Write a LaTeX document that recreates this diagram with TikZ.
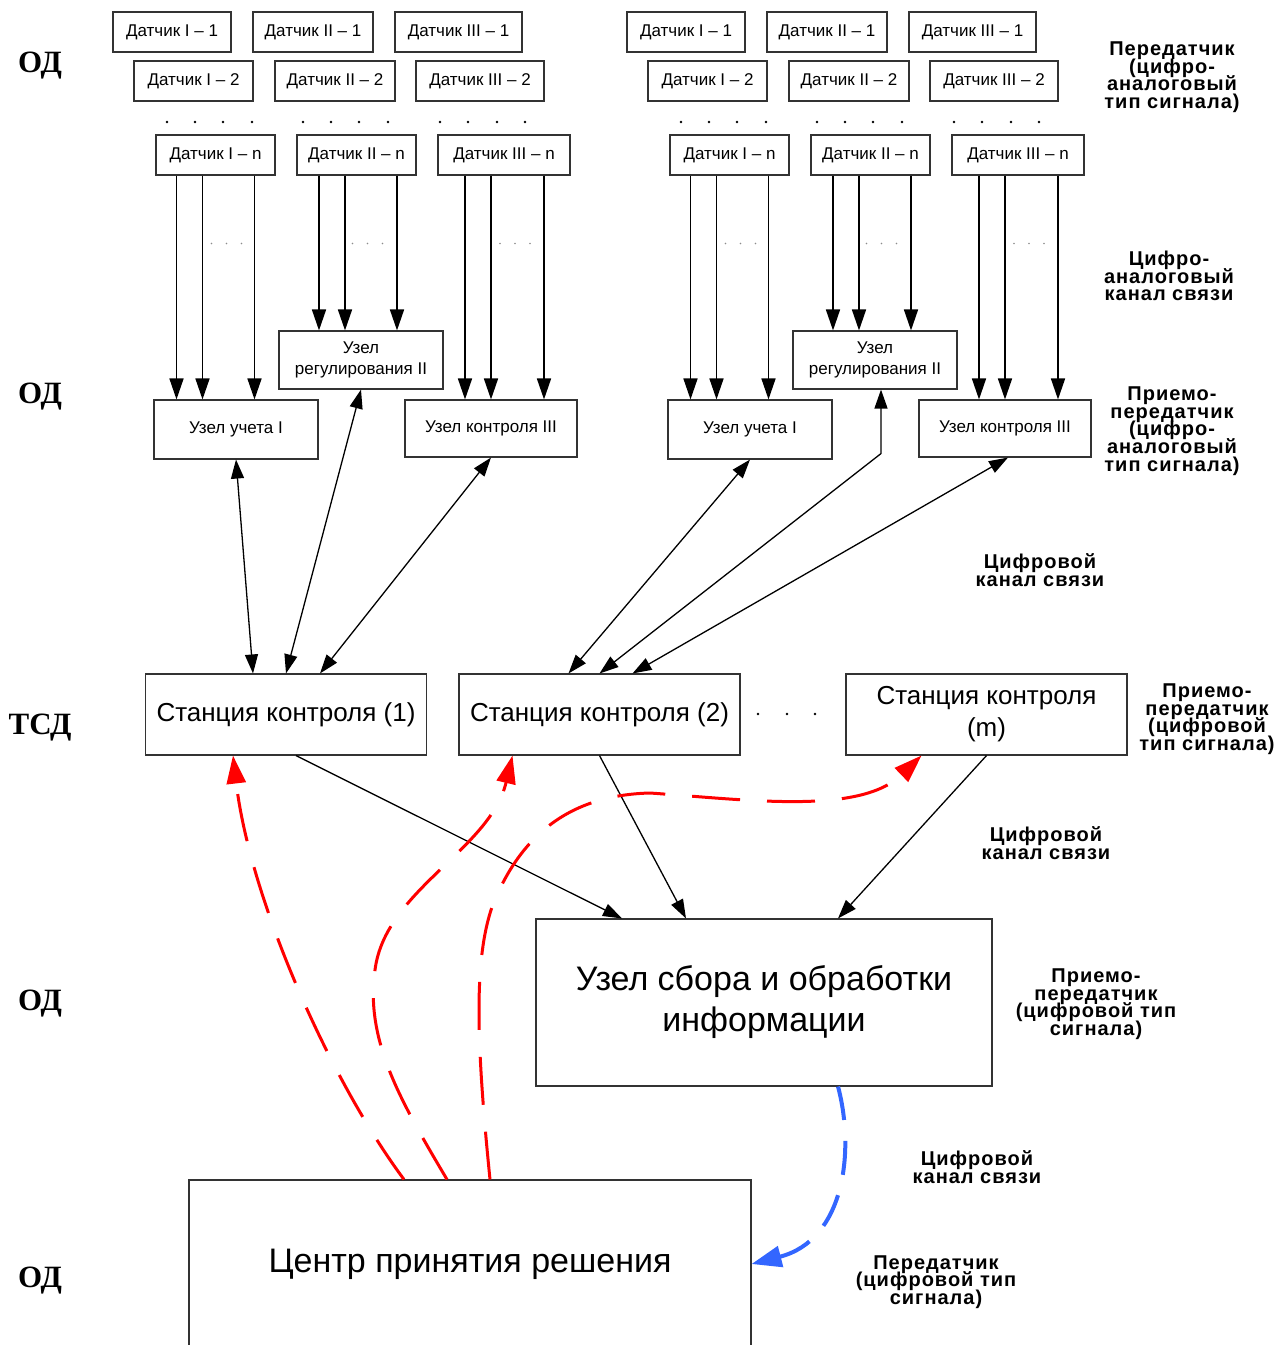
\documentclass[tikz,border=0pt]{standalone}
\usepackage{fontspec}
\setmainfont{Liberation Sans}
\newfontfamily\lblfont[LetterSpace=5]{Liberation Sans}
\newfontfamily\lvlfont{Liberation Serif}
\usetikzlibrary{arrows.meta}
\usetikzlibrary{calc}
\definecolor{linkblue}{RGB}{51,102,255}
\newcommand\lblsetup{\lblfont\bfseries\fontsize{20}{17.6}\selectfont\lineskiplimit=-20pt\relax}

\begin{document}
\begin{tikzpicture}[x=1pt,y=-1pt,
  box/.style={draw=black!80,line width=1.1pt,inner sep=0pt,align=center},
  sens/.style={box,minimum height=40,font=\fontsize{17}{21}\selectfont},
  unitbox/.style={box,font=\fontsize{17}{21}\selectfont},
  station/.style={box,minimum width=281,minimum height=81,font=\fontsize{26}{32}\selectfont},
  bigbox/.style={box,font=\fontsize{34}{41}\selectfont},
  lbl/.style={align=center,font=\lblsetup},
  lvl/.style={font=\lvlfont\bfseries\fontsize{31}{31}\selectfont},
  arr/.style={line width=1.6pt,-{Triangle[length=21pt,width=14pt]}},
  arrtwo/.style={line width=1.3pt,{Triangle[length=19pt,width=13pt]}-{Triangle[length=19pt,width=13pt]}},
  arrone/.style={line width=1.3pt,-{Triangle[length=19pt,width=13pt]}},
  rdash/.style={red,line width=3pt,dash pattern=on 48pt off 27pt,-{Triangle[length=28pt,width=19pt]}},
  bdash/.style={linkblue,line width=4pt,dash pattern=on 34pt off 21pt,-{Triangle[length=30pt,width=21pt]}}]
\useasboundingbox (0,0) rectangle (1278,1345);

% level names
\node[lvl] (od1) at (40,66) {ОД};
\node[lvl] (od2) at (40,397) {ОД};
\node[lvl] (tsd) at (40,728) {ТСД};
\node[lvl] (od3) at (40,1004) {ОД};
\node[lvl] (od4) at (40,1281) {ОД};

% two groups of sensors
\foreach \g/\dx in {a/0,b/514}{
  \node[sens,minimum width=118] (sI1\g) at (172+\dx,32) {Датчик I – 1};
  \node[sens,minimum width=120] (sII1\g) at (313+\dx,32) {Датчик II – 1};
  \node[sens,minimum width=127] (sIII1\g) at (458.5+\dx,32) {Датчик III – 1};
  \node[sens,minimum width=119] (sI2\g) at (193.5+\dx,81) {Датчик I – 2};
  \node[sens,minimum width=120] (sII2\g) at (335+\dx,81) {Датчик II – 2};
  \node[sens,minimum width=128] (sIII2\g) at (480+\dx,81) {Датчик III – 2};
  \node[sens,minimum width=119] (sIn\g) at (215.5+\dx,155) {Датчик I – n};
  \node[sens,minimum width=119] (sIIn\g) at (356.5+\dx,155) {Датчик II – n};
  \node[sens,minimum width=132] (sIIIn\g) at (504+\dx,155) {Датчик III – n};
  \foreach \x in {167,195,223,252,303,331,359,388,440,468,497,525}
    \fill (\x+\dx,122) circle (1.3);

  \node[unitbox,minimum width=164,minimum height=59] (uch\g) at (236+\dx,429.5) {Узел учета I};
  \node[unitbox,minimum width=164,minimum height=58] (reg\g) at (361+\dx,360) {Узел\\регулирования II};
  \node[unitbox,minimum width=172,minimum height=57] (kon\g) at (491+\dx,428.5) {Узел контроля III};

  \foreach \o in {-39,-13,39}
    \draw[arr] ([xshift=\o pt]sIn\g.south) -- ([xshift=\o pt]sIn\g.south |- uch\g.north);
  \foreach \o in {-37.5,-11.5,40.5}
    \draw[arr] ([xshift=\o pt]sIIn\g.south) -- ([xshift=\o pt]sIIn\g.south |- reg\g.north);
  \foreach \o in {-39,-13,40}
    \draw[arr] ([xshift=\o pt]sIIIn\g.south) -- ([xshift=\o pt]sIIIn\g.south |- kon\g.north);
  \foreach \n in {sIn\g,sIIn\g,sIIIn\g}
    \foreach \o in {-4,11,26}
      \fill[black!45] ($(\n.south)+(\o,68)$) circle (0.9);
}

% stations
\node[station] (st1) at (286,714.5) {Станция контроля (1)};
\node[station] (st2) at (599.5,714.5) {Станция контроля (2)};
\node[station] (stm) at (986.5,714.5) {Станция контроля\\(m)};
\foreach \x in {758,787,815}
  \fill (\x,714) circle (1.3);

\node[bigbox,minimum width=456,minimum height=167] (sbor) at (764,1002.5) {Узел сбора и обработки\\информации};
\node[bigbox,minimum width=562,minimum height=168] (centr) at (470,1264) {Центр принятия решения};

% links to stations
\draw[arrtwo] (ucha.south) -- ([xshift=-33pt]st1.north);
\draw[arrtwo] (rega.south) -- (st1.north);
\draw[arrtwo] (kona.south) -- ([xshift=34pt]st1.north);
\draw[arrtwo] (uchb.south) -- ([xshift=-31pt]st2.north);
\draw[arrtwo] ([xshift=6pt]regb.south) -- ++(0,64) -- (st2.north);
\draw[arrtwo] ([xshift=3pt]konb.south) -- ([xshift=33pt]st2.north);

\draw[arrone] ([xshift=10pt]st1.south) -- ([xshift=-142pt]sbor.north);
\draw[arrone] (st2.south) -- ([xshift=-78pt]sbor.north);
\draw[arrone] (stm.south) -- ([xshift=74pt]sbor.north);

% control links from the centre
\draw[rdash] ([xshift=-66pt]centr.north) .. controls (330,1080) and (250,900) .. ([xshift=-53pt]st1.south);
\draw[rdash] ([xshift=-23pt]centr.north) .. controls (400,1100) and (365,1040) .. (375,970)
  .. controls (385,890) and (490,850) .. ([xshift=-87pt]st2.south);
\draw[rdash] ([xshift=20pt]centr.north) .. controls (476,1040) and (474,960) .. (492,907)
  .. controls (520,835) and (570,795) .. (650,793)
  .. controls (750,800) and (860,815) .. ([xshift=-65pt]stm.south);
\draw[bdash] ([xshift=74pt]sbor.south) .. controls (855,1150) and (845,1240) .. (centr.east);

% right side labels
\node[lbl] (l1) at (1172,77) {Передатчик\\(цифро-\\аналоговый\\тип сигнала)};
\node[lbl] (l2) at (1169,276) {Цифро-\\аналоговый\\канал связи};
\node[lbl] (l3) at (1172,431) {Приемо-\\передатчик\\(цифро-\\аналоговый\\тип сигнала)};
\node[lbl] (l4) at (1040,570) {Цифровой\\канал связи};
\node[lbl] (l5) at (1207,719) {Приемо-\\передатчик\\(цифровой\\тип сигнала)};
\node[lbl] (l6) at (1046,843) {Цифровой\\канал связи};
\node[lbl] (l7) at (1096,1004) {Приемо-\\передатчик\\(цифровой тип\\сигнала)};
\node[lbl] (l8) at (977,1167) {Цифровой\\канал связи};
\node[lbl] (l9) at (936,1282) {Передатчик\\(цифровой тип\\сигнала)};
\end{tikzpicture}
\end{document}
